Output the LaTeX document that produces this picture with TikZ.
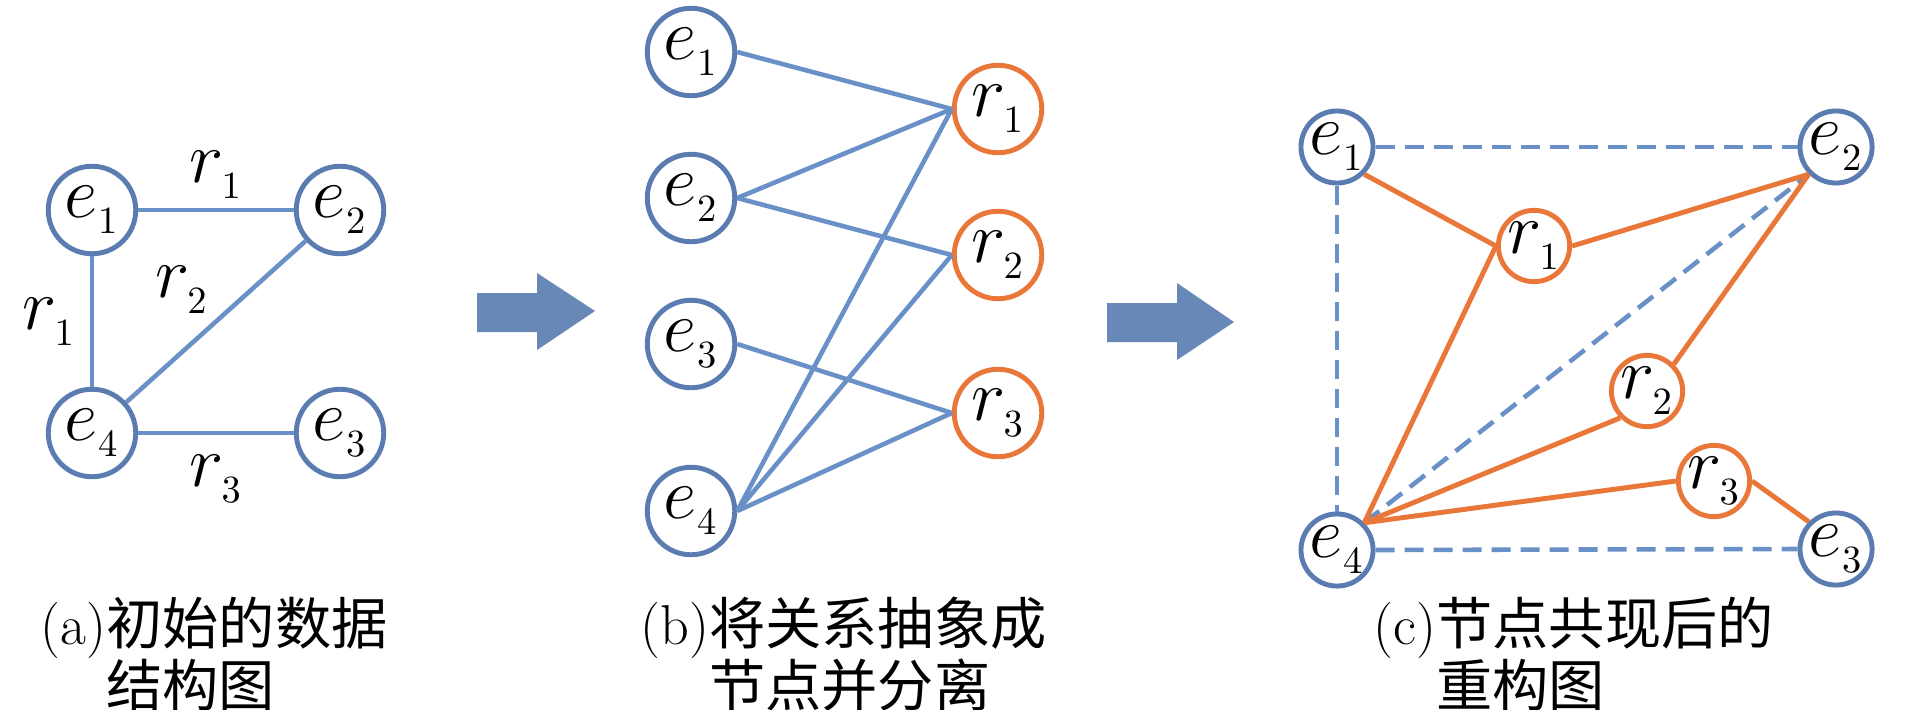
\documentclass[tikz,border=0pt]{standalone}
\usepackage{fontspec}
\newfontfamily\cjk{Noto Sans CJK SC}
\DeclareMathSizes{20}{20}{11}{9}
\definecolor{nodeblue}{RGB}{90,124,176}
\definecolor{lineblue}{RGB}{105,144,199}
\definecolor{relorange}{RGB}{233,119,57}
\definecolor{arrowblue}{RGB}{104,137,183}
\def\ent#1{$e_{\lower1.5pt\hbox{$\scriptstyle #1$}}$}
\def\rln#1{$r_{\lower1.5pt\hbox{$\scriptstyle #1$}}$}
\tikzset{
	ent/.style={circle, draw=nodeblue, line width=1.4pt, fill=white, inner sep=0pt, minimum size=8.75mm, font=\fontsize{20}{22}\selectfont},
	rln/.style={ent, draw=relorange},
	cnode/.style={minimum size=7mm},
	link/.style={draw=lineblue, line width=1.3pt},
	dashlink/.style={link, dash pattern=on 1.9mm off 1mm},
	cooc/.style={draw=relorange, line width=1.4pt},
	lbl/.style={inner sep=0pt, font=\fontsize{20}{22}\selectfont},
	caption/.style={anchor=base west, inner sep=0pt, font=\fontsize{16}{18}\selectfont},
}

\begin{document}
\begin{tikzpicture}[x=0.1mm, y=-0.1mm]
	\useasboundingbox (0,0) rectangle (1913,709);
	
	% (a)
	\node[ent] (e1a) at (92,210) {\ent1};
	\node[ent] (e2a) at (340,210) {\ent2};
	\node[ent] (e3a) at (340,433) {\ent3};
	\node[ent] (e4a) at (92,433) {\ent4};
	\draw[link] (e1a) -- node[lbl, above=2.5pt] {\rln1} (e2a);
	\draw[link] (e1a) -- node[lbl, left=4pt] {\rln1} (e4a);
	\draw[link] (e4a) -- node[lbl, above left=1.5pt] {\rln2} (e2a);
	\draw[link] (e4a) -- node[lbl, below=5.5pt] {\rln3} (e3a);
	
	\fill[arrowblue] (477,293) -- (537,293) -- (537,273) -- (595,311) -- (537,350) -- (537,332) -- (477,332) -- cycle;
	
	% (b)
	\node[ent] (e1b) at (691,52) {\ent1};
	\node[ent] (e2b) at (691,198) {\ent2};
	\node[ent] (e3b) at (691,344) {\ent3};
	\node[ent] (e4b) at (691,511) {\ent4};
	\node[rln] (r1b) at (998,109) {\rln1};
	\node[rln] (r2b) at (998,255) {\rln2};
	\node[rln] (r3b) at (998,413) {\rln3};
	\draw[link] (e1b.east) -- (r1b.west);
	\draw[link] (e2b.east) -- (r1b.west);
	\draw[link] (e2b.east) -- (r2b.west);
	\draw[link] (e3b.east) -- (r3b.west);
	\draw[link] (e4b.east) -- (r1b.west);
	\draw[link] (e4b.east) -- (r2b.west);
	\draw[link] (e4b.east) -- (r3b.west);
	
	\fill[arrowblue] (1107,303) -- (1177,303) -- (1177,283) -- (1234,322) -- (1177,360) -- (1177,342) -- (1107,342) -- cycle;
	
	% (c)
	\node[ent, cnode] (e1c) at (1337,147) {\ent1};
	\node[ent, cnode] (e2c) at (1836,147) {\ent2};
	\node[ent, cnode] (e3c) at (1836,549) {\ent3};
	\node[ent, cnode] (e4c) at (1337,550) {\ent4};
	\node[rln, cnode] (r1c) at (1534,246) {\rln1};
	\node[rln, cnode] (r2c) at (1647,391) {\rln2};
	\node[rln, cnode] (r3c) at (1714,481) {\rln3};
	\draw[dashlink] (e1c.east) -- (e2c.west);
	\draw[dashlink] (e1c.south) -- (e4c.north);
	\draw[dashlink] (e4c.east) -- (e3c.west);
	\draw[dashlink] (e4c.north east) -- (e2c.south west);
	\draw[cooc] (e1c.south east) -- (r1c.west);
	\draw[cooc] (r1c.east) -- (e2c.south west);
	\draw[cooc] (r1c.west) -- (e4c.north east);
	\draw[cooc] (r2c.north east) -- (e2c.south west);
	\draw[cooc] (r2c.south west) -- (e4c.north east);
	\draw[cooc] (e4c.north east) -- (r3c.west);
	\draw[cooc] (r3c.east) -- (e3c.north west);
	
	% captions
	\node[caption] (capa) at (40,644) {(a)\cjk 初始的数据};
	\node[caption] (capa2) at (40,706) {\phantom{(a)}\cjk 结构图};
	\node[caption] (capb) at (640,644) {(b)\cjk 将关系抽象成};
	\node[caption] (capb2) at (640,706) {\phantom{(b)}\cjk 节点并分离};
	\node[caption] (capc) at (1373,644) {(c)\cjk 节点共现后的};
	\node[caption] (capc2) at (1373,706) {\phantom{(c)}\cjk 重构图};
\end{tikzpicture}
\end{document}
